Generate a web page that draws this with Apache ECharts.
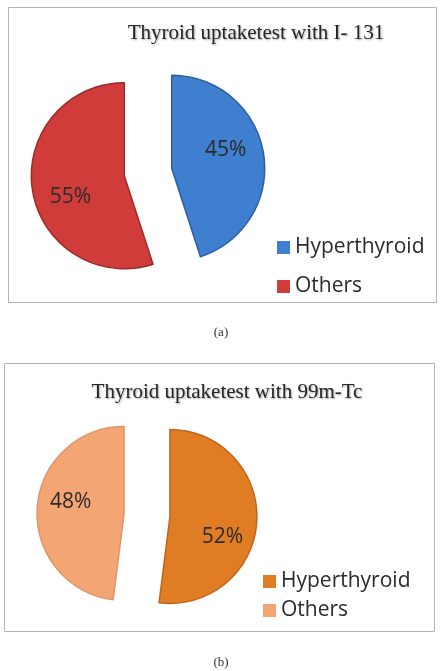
<!DOCTYPE html>
<html>
<head>
<meta charset="utf-8">
<script src="https://cdn.jsdelivr.net/npm/echarts@6/dist/echarts.min.js"></script>
<style>
html,body{margin:0;padding:0;background:#fff;}
#chart{width:443px;height:671px;}
</style>
</head>
<body>
<div id="chart"></div>
<script>
// ---- data ----
const categories = ['Hyperthyroid', 'Others'];
const valuesI131 = [45, 55];
const valuesTc99m = [52, 48];
const titleA = 'Thyroid uptaketest with I- 131';
const titleB = 'Thyroid uptaketest with 99m-Tc';
const captionA = '(a)';
const captionB = '(b)';

// ---- style ----
const colorsA = ['#3f7fcf', '#d03c3a'];
const edgeA = ['#2d5f9e', '#9e2b29'];
const colorsB = ['#e07c24', '#f3a674'];
const edgeB = ['#c0661c', '#e0956a'];
const labelShiftA = [[5, -10], [-5, 14]];
const labelShiftB = [[6, 18], [-7, -9]];
const labelFont = '"Open Sans", "Liberation Sans", sans-serif';
const serifFont = '"Liberation Serif", "DejaVu Serif", serif';

function pieData(values, colors, edges) {
  return categories.map((name, i) => ({
    name: name,
    value: values[i],
    selected: true,
    itemStyle: { color: colors[i], borderColor: edges[i], borderWidth: 1.5 },
    select: { itemStyle: { color: colors[i], borderColor: edges[i], borderWidth: 1.5 } }
  }));
}

function legendData(colors) {
  return categories.map((name, i) => ({
    name: name,
    itemStyle: { color: colors[i], borderWidth: 0 }
  }));
}

const chart = echarts.init(document.getElementById('chart'), null, { renderer: 'canvas' });

const labelCfg = {
  show: true,
  position: 'inside',
  formatter: '{c}%',
  fontFamily: labelFont,
  fontSize: 21,
  color: '#2b2b2b'
};

function shiftLayout(shifts) {
  return function (params) {
    const s = shifts[params.dataIndex];
    return { dx: s[0], dy: s[1] };
  };
}

function titleText(x, y, text) {
  return { type: 'text', x: x, y: y, silent: true,
    style: { text: text, font: 'normal 21px ' + serifFont, fill: '#262626',
             align: 'center', verticalAlign: 'middle',
             textShadowColor: 'rgba(0,0,0,0.35)', textShadowBlur: 2,
             textShadowOffsetX: 1, textShadowOffsetY: 1 } };
}

chart.setOption({
  animation: false,
  backgroundColor: '#ffffff',
  graphic: [
    { type: 'rect', shape: { x: 8.5, y: 7.5, width: 428, height: 295 },
      style: { fill: 'none', stroke: '#b4b4b4', lineWidth: 1 }, silent: true },
    { type: 'rect', shape: { x: 4.5, y: 363.5, width: 430, height: 268 },
      style: { fill: 'none', stroke: '#b4b4b4', lineWidth: 1 }, silent: true },
    titleText(256, 33, titleA),
    titleText(227, 392, titleB),
    { type: 'text', x: 221, y: 333,
      style: { text: captionA, font: 'normal 13px ' + serifFont, fill: '#333',
               align: 'center', verticalAlign: 'middle' }, silent: true },
    { type: 'text', x: 221, y: 663,
      style: { text: captionB, font: 'normal 13px ' + serifFont, fill: '#333',
               align: 'center', verticalAlign: 'middle' }, silent: true }
  ],
  legend: [
    {
      orient: 'vertical', left: 272, top: 232,
      itemWidth: 13, itemHeight: 13, itemGap: 18, icon: 'rect',
      data: legendData(colorsA),
      itemStyle: { borderWidth: 0 },
      textStyle: { fontFamily: labelFont, fontSize: 21, color: '#2b2b2b' },
      selectedMode: false
    },
    {
      orient: 'vertical', left: 258, top: 566,
      itemWidth: 13, itemHeight: 13, itemGap: 8, icon: 'rect',
      data: legendData(colorsB),
      itemStyle: { borderWidth: 0 },
      textStyle: { fontFamily: labelFont, fontSize: 21, color: '#2b2b2b' },
      selectedMode: false
    }
  ],
  series: [
    {
      type: 'pie',
      center: [148, 172],
      radius: [0, 93],
      startAngle: 90,
      clockwise: true,
      selectedMode: 'multiple',
      selectedOffset: 24,
      avoidLabelOverlap: false,
      label: labelCfg,
      labelLine: { show: false },
      labelLayout: shiftLayout(labelShiftA),
      emphasis: { disabled: true },
      data: pieData(valuesI131, colorsA, edgeA)
    },
    {
      type: 'pie',
      center: [147, 515],
      radius: [0, 87],
      startAngle: 90,
      clockwise: true,
      selectedMode: 'multiple',
      selectedOffset: 23,
      avoidLabelOverlap: false,
      label: labelCfg,
      labelLine: { show: false },
      labelLayout: shiftLayout(labelShiftB),
      emphasis: { disabled: true },
      data: pieData(valuesTc99m, colorsB, edgeB)
    }
  ]
});
</script>
</body>
</html>
